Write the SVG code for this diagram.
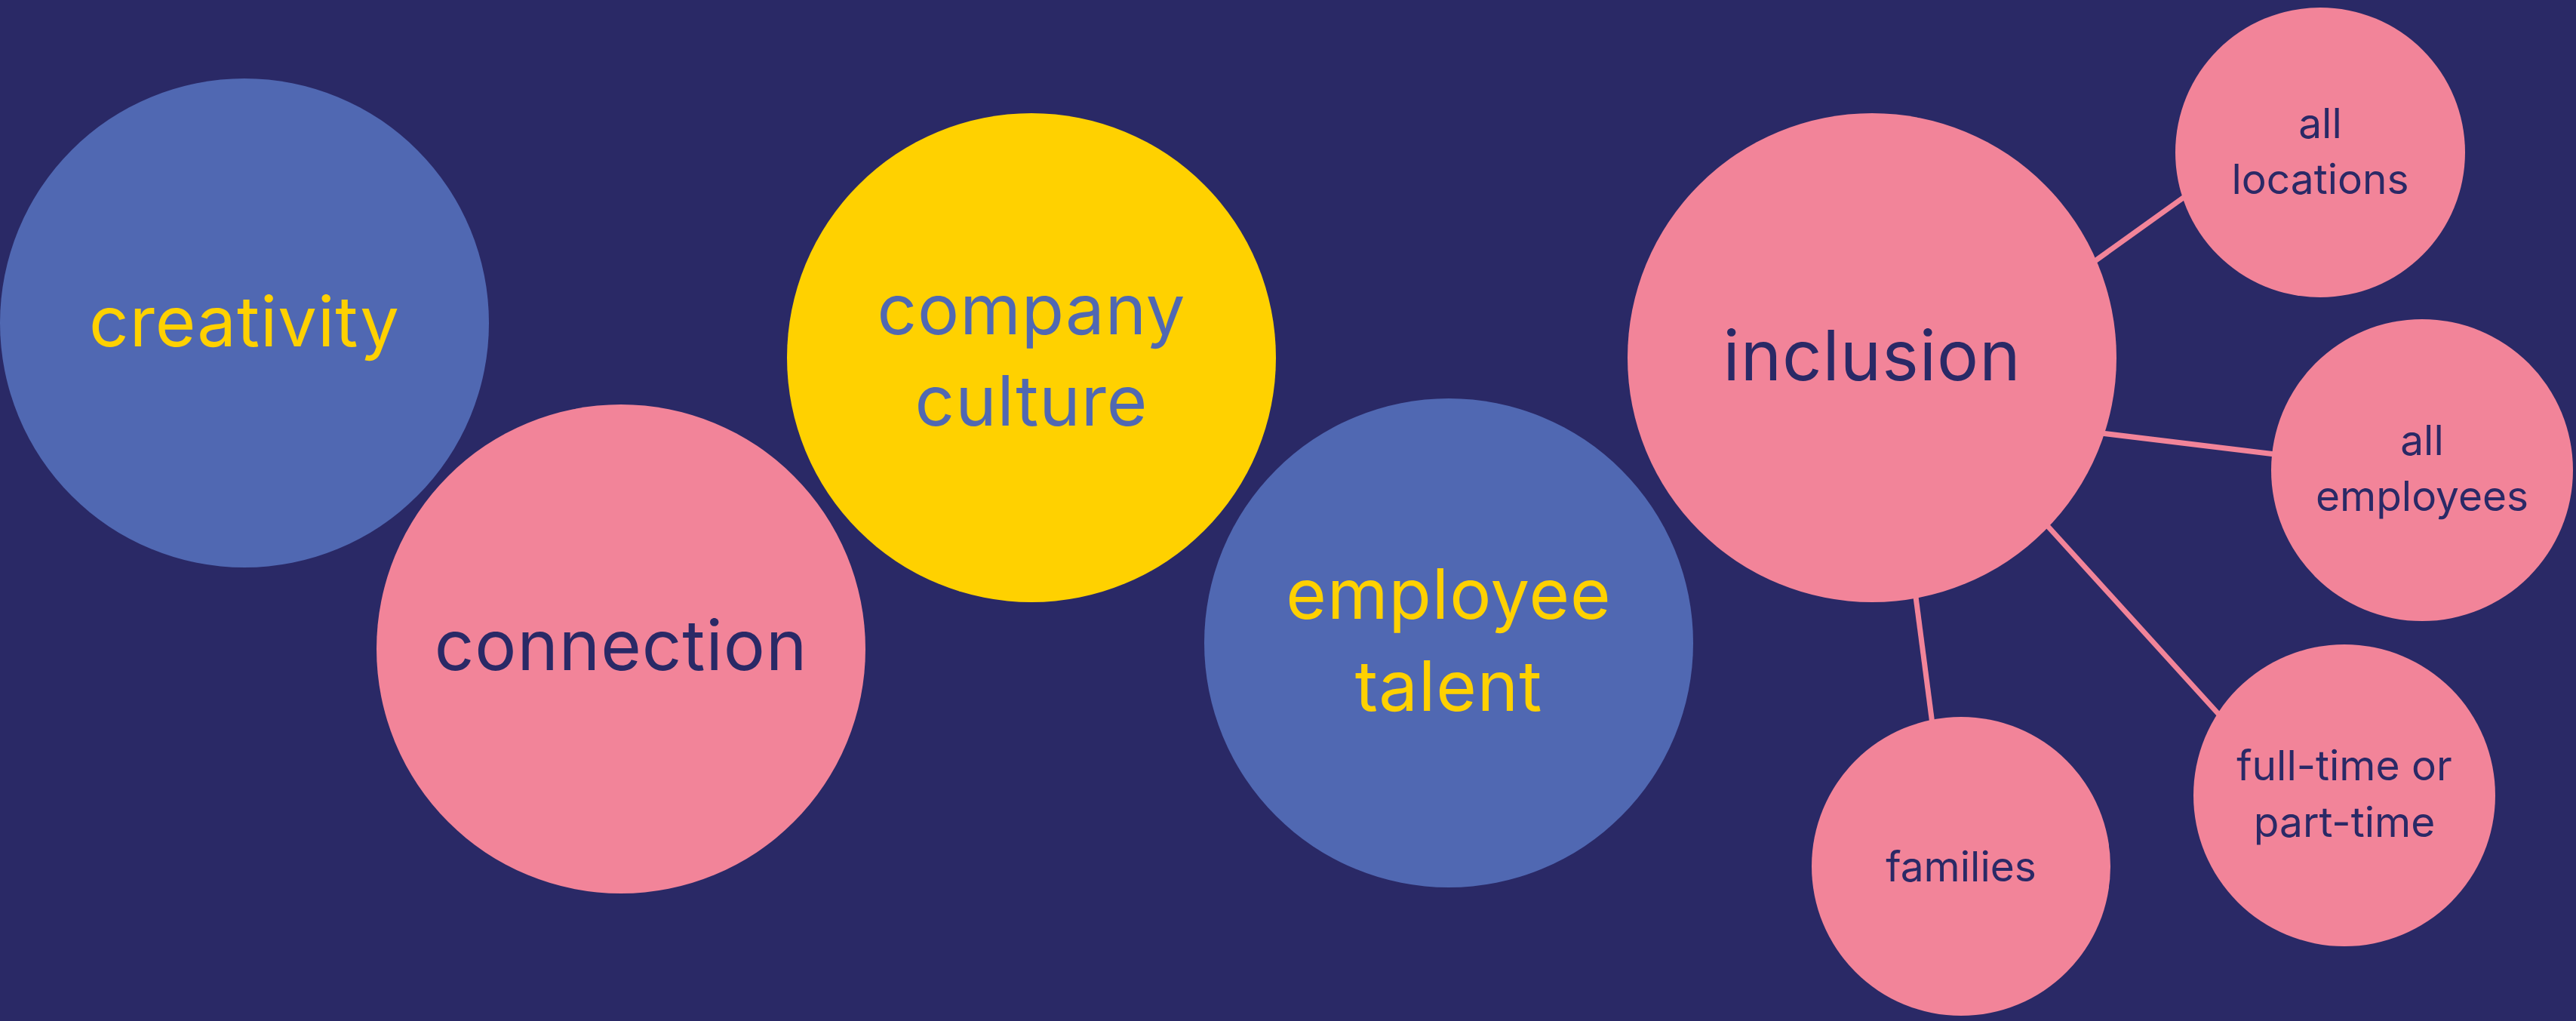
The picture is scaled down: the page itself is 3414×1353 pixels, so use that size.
<svg xmlns="http://www.w3.org/2000/svg" width="3414" height="1353" viewBox="0 0 3414 1353">
<style>
.blue{fill:#5068B2}
.pink{fill:#F28499}
.yellow{fill:#FFD100}
.big{font-family:Inter,"Open Sans","Liberation Sans",sans-serif;font-size:92px;text-anchor:middle;letter-spacing:1px}
.small{font-family:Inter,"Open Sans","Liberation Sans",sans-serif;font-size:55px;text-anchor:middle}
.ty{fill:#FFD100}
.tn{fill:#2A2966}
.tb{fill:#5068B2}
.conn{stroke:#F28499;stroke-width:7;fill:none}
</style>
<rect x="0" y="0" width="3414" height="1353" fill="#2A2966"/>
<g id="connectors">
<line class="conn" x1="2740" y1="372" x2="2920" y2="243"/>
<line class="conn" x1="2760" y1="571" x2="3040" y2="605"/>
<line class="conn" x1="2700" y1="682" x2="2950" y2="957"/>
<line class="conn" x1="2533" y1="745" x2="2565" y2="990"/>
</g>
<g id="creativity">
<circle class="blue" cx="324" cy="428" r="324"/>
<text class="big ty" x="324" y="459">creativity</text>
</g>
<g id="connection">
<circle class="pink" cx="823" cy="860" r="324"/>
<text class="big tn" x="823" y="888">connection</text>
</g>
<g id="company-culture">
<circle class="yellow" cx="1367" cy="474" r="324"/>
<text class="big tb" x="1367" y="443">company</text>
<text class="big tb" x="1367" y="564">culture</text>
</g>
<g id="employee-talent">
<circle class="blue" cx="1920" cy="852" r="324"/>
<text class="big ty" x="1920" y="820">employee</text>
<text class="big ty" x="1920" y="942">talent</text>
</g>
<g id="inclusion">
<circle class="pink" cx="2481" cy="474" r="324"/>
<text class="big tn" x="2481" y="504">inclusion</text>
</g>
<g id="all-locations">
<circle class="pink" cx="3075" cy="202" r="192"/>
<text class="small tn" x="3075" y="183">all</text>
<text class="small tn" x="3075" y="257">locations</text>
</g>
<g id="all-employees">
<circle class="pink" cx="3210" cy="623" r="200"/>
<text class="small tn" x="3210" y="603">all</text>
<text class="small tn" x="3210" y="677">employees</text>
</g>
<g id="full-time-or-part-time">
<circle class="pink" cx="3107" cy="1054" r="200"/>
<text class="small tn" x="3107" y="1034">full-time or</text>
<text class="small tn" x="3107" y="1109">part-time</text>
</g>
<g id="families">
<circle class="pink" cx="2599" cy="1148" r="198"/>
<text class="small tn" x="2599" y="1168">families</text>
</g>
</svg>
